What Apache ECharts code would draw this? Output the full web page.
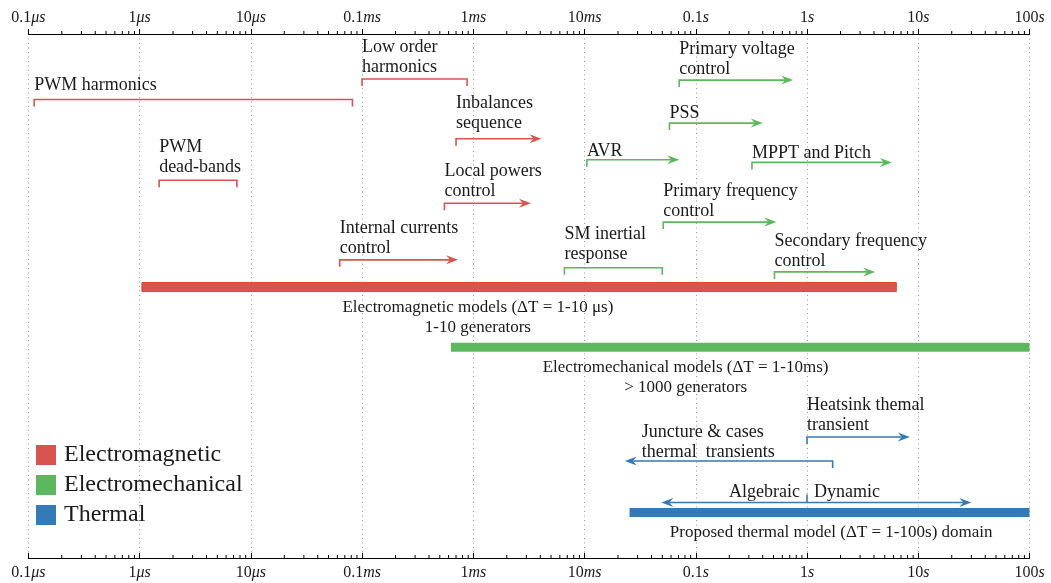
<!DOCTYPE html>
<html>
<head>
<meta charset="utf-8">
<script src="https://cdn.jsdelivr.net/npm/echarts@6/dist/echarts.min.js"></script>
<style>
  html, body { margin: 0; padding: 0; background: #ffffff; }
  #chart { width: 1051px; height: 583px; }
</style>
</head>
<body>
<div id="chart"></div>
<script>
// Time scale: one major tick per decade, in seconds
const decadeValues  = [1e-7, 1e-6, 1e-5, 1e-4, 1e-3, 1e-2, 1e-1, 1, 10, 100];
const decadeNumbers = ['0.1', '1', '10', '0.1', '1', '10', '0.1', '1', '10', '100'];
const decadeUnits   = ['μs', 'μs', 'μs', 'ms', 'ms', 'ms', 's', 's', 's', 's'];
const minorSteps    = [2, 3, 4, 5, 6, 7, 8, 9];

// Model families
const familyNames  = ['Electromagnetic', 'Electromechanical', 'Thermal'];
const familyColors = ['#d9534f', '#5cb85c', '#337ab7'];

// Dynamic phenomena and the time ranges they cover (seconds)
const spanLabels = [
  'PWM harmonics', 'PWM\ndead-bands', 'Low order\nharmonics', 'Inbalances\nsequence',
  'Local powers\ncontrol', 'Internal currents\ncontrol',
  'Primary voltage\ncontrol', 'PSS', 'AVR', 'MPPT and Pitch',
  'Primary frequency\ncontrol', 'SM inertial\nresponse', 'Secondary frequency\ncontrol',
  'Heatsink themal\ntransient', 'Juncture & cases\nthermal  transients', 'Algebraic|Dynamic'
];
const spanStart  = [1.13e-7, 1.5e-6, 1.0e-4, 7.0e-4, 5.5e-4, 6.3e-5,
                    0.071, 0.058, 0.0105, 0.32, 0.051, 6.6e-3, 0.51,
                    1, 0.023, 0.049];
const spanEnd    = [8.2e-5, 7.5e-6, 8.8e-4, 4.1e-3, 3.3e-3, 7.3e-4,
                    0.75, 0.40, 0.071, 5.8, 0.53, 0.050, 4.1,
                    8.4, 1.7, 30];
const spanSplit  = [null, null, null, null, null, null,
                    null, null, null, null, null, null, null,
                    null, null, 1];
const spanFamily = [0, 0, 0, 0, 0, 0, 1, 1, 1, 1, 1, 1, 1, 2, 2, 2];
// bracket: |‾‾|   arrow: |‾‾>   back: <‾‾|   both: <‾‾|‾‾>
const spanShape  = ['bracket', 'bracket', 'bracket', 'arrow', 'arrow', 'arrow',
                    'arrow', 'arrow', 'arrow', 'arrow', 'arrow', 'bracket', 'arrow',
                    'arrow', 'back', 'both'];

// Simulation model domains (thick bars)
const domainLabels = [
  'Electromagnetic models (ΔT = 1-10 μs)\n1-10 generators',
  'Electromechanical models (ΔT = 1-10ms)\n> 1000 generators',
  'Proposed thermal model (ΔT = 1-100s) domain'
];
const domainStart  = [1.05e-6, 6.3e-4, 0.0254];
const domainEnd    = [6.35, 100, 100];
const domainFamily = [0, 1, 2];

// Layout: vertical lane of every span / bar (percent of plot height from the top)
const spanLane    = [12.5, 27.9, 8.6, 20.0, 32.3, 43.1,
                     8.8, 17.0, 24.0, 24.5, 35.9, 44.6, 45.4,
                     76.9, 81.5, 89.4];
const spanLabelGap = [14, 13, 12, 16, 12, 12, 11, 10, 8.5, 9.5, 11, 13, 11, 12, 9, 10];
const domainLane    = [48.3, 59.8, 91.3];
const domainLabelAt = [1.1e-3, 0.081, 1.65];

const FONT = '"Liberation Serif", "DejaVu Serif", serif';
const INK = '#1a1a1a';

const minorValues = [];
decadeValues.slice(0, -1).forEach(d => minorSteps.forEach(s => minorValues.push([d * s, 0])));

function arrowHead(tipX, y, dir, color) {
  return {
    type: 'polygon',
    shape: { points: [[tipX, y], [tipX - 12 * dir, y - 4.5], [tipX - 8 * dir, y], [tipX - 12 * dir, y + 4.5]] },
    style: { fill: color, stroke: null }
  };
}

function labelText(text, x, y, align, color) {
  return {
    type: 'text',
    style: {
      text, x, y, fill: color || INK, align, verticalAlign: 'bottom',
      fontFamily: FONT, fontSize: 18, lineHeight: 20
    }
  };
}

function renderSpan(params, api) {
  const k = api.value(3);
  const color = familyColors[spanFamily[k]];
  const a = api.coord([spanStart[k], spanLane[k]]);
  const b = api.coord([spanEnd[k], spanLane[k]]);
  const y = a[1];
  const x0 = a[0], x1 = b[0];
  const ln = { stroke: color, lineWidth: 1.6, fill: null };
  const kids = [];
  const textY = y - spanLabelGap[k] + 10;
  const shape = spanShape[k];
  if (shape === 'bracket') {
    kids.push({ type: 'polyline', shape: { points: [[x0, y + 7], [x0, y], [x1, y], [x1, y + 7]] }, style: ln });
    kids.push(labelText(spanLabels[k], x0, textY, 'left'));
  } else if (shape === 'arrow') {
    kids.push({ type: 'polyline', shape: { points: [[x0, y + 7], [x0, y], [x1 - 8, y]] }, style: ln });
    kids.push(arrowHead(x1, y, 1, color));
    kids.push(labelText(spanLabels[k], x0, textY, 'left'));
  } else if (shape === 'back') {
    kids.push({ type: 'polyline', shape: { points: [[x1, y + 7], [x1, y], [x0 + 8, y]] }, style: ln });
    kids.push(arrowHead(x0, y, -1, color));
    kids.push(labelText(spanLabels[k], x0 + 17, textY, 'left'));
  } else {
    const m = api.coord([spanSplit[k], spanLane[k]])[0];
    kids.push({ type: 'line', shape: { x1: x0 + 8, y1: y, x2: x1 - 8, y2: y }, style: ln });
    kids.push({ type: 'line', shape: { x1: m, y1: y, x2: m, y2: y - 8 }, style: ln });
    kids.push(arrowHead(x0, y, -1, color));
    kids.push(arrowHead(x1, y, 1, color));
    const parts = spanLabels[k].split('|');
    kids.push(labelText(parts[0], m - 7, textY, 'right'));
    kids.push(labelText(parts[1], m + 7, textY, 'left'));
  }
  return { type: 'group', children: kids };
}

function renderDomain(params, api) {
  const k = api.value(3);
  const f = domainFamily[k];
  const a = api.coord([domainStart[k], domainLane[k]]);
  const b = api.coord([domainEnd[k], domainLane[k]]);
  const c = api.coord([domainLabelAt[k], domainLane[k]]);
  const h = 9;
  const kids = [{
    type: 'rect',
    shape: { x: a[0], y: a[1] - h / 2, width: b[0] - a[0], height: h },
    style: f === 0 ? { fill: familyColors[f], stroke: '#e2452f', lineWidth: 1 } : { fill: familyColors[f] }
  }, {
    type: 'text',
    style: {
      text: domainLabels[k], x: c[0], y: a[1] + 10, fill: INK, align: 'center', verticalAlign: 'top',
      fontFamily: FONT, fontSize: 17, lineHeight: 20
    }
  }];
  return { type: 'group', children: kids };
}

function renderMinorTick(params, api) {
  const t = api.value(0);
  const top = api.coord([t, 0]);
  const bottom = api.coord([t, 100]);
  const st = { stroke: '#000', lineWidth: 1 };
  return {
    type: 'group',
    children: [
      { type: 'line', shape: { x1: top[0], y1: top[1], x2: top[0], y2: top[1] - 3 }, style: st },
      { type: 'line', shape: { x1: bottom[0], y1: bottom[1], x2: bottom[0], y2: bottom[1] - 3 }, style: st }
    ]
  };
}

function decadeLabel(v) {
  const i = Math.round(Math.log10(v)) + 7;
  if (i < 0 || i >= decadeNumbers.length) return '';
  return '{n|' + decadeNumbers[i] + '}{u|' + decadeUnits[i] + '}';
}

const axisRich = {
  n: { fontFamily: FONT, fontSize: 16, color: INK },
  u: { fontFamily: FONT, fontSize: 16, fontStyle: 'italic', color: INK }
};

function timeAxis(position) {
  const bottom = position === 'bottom';
  return {
    type: 'log',
    logBase: 10,
    position,
    min: decadeValues[0],
    max: decadeValues[decadeValues.length - 1],
    axisLine: { show: true, onZero: false, lineStyle: { color: '#000', width: 1 } },
    axisTick: { show: true, inside: bottom, length: 5, lineStyle: { color: '#000', width: 1 } },
    minorTick: { show: false },
    axisLabel: {
      show: true, margin: bottom ? 7 : 8, formatter: decadeLabel, rich: axisRich,
      showMinLabel: true, showMaxLabel: true, hideOverlap: false
    },
    splitLine: bottom
      ? { show: true, lineStyle: { color: '#9a9a9a', width: 1, type: [1, 3.5] } }
      : { show: false }
  };
}

const series = [];
familyNames.forEach((name, f) => {
  series.push({
    name, type: 'custom', clip: false, z: 3,
    itemStyle: { color: familyColors[f] },
    renderItem: renderDomain,
    encode: { x: [0, 1], y: 2 },
    data: domainStart.map((s, k) => [s, domainEnd[k], domainLane[k], k]).filter((d, k) => domainFamily[k] === f)
  });
  series.push({
    name, type: 'custom', clip: false, z: 4,
    itemStyle: { color: familyColors[f] },
    renderItem: renderSpan,
    encode: { x: [0, 1], y: 2 },
    data: spanStart.map((s, k) => [s, spanEnd[k], spanLane[k], k]).filter((d, k) => spanFamily[k] === f)
  });
});
series.push({
  name: 'ticks', type: 'custom', clip: false, z: 2, silent: true,
  renderItem: renderMinorTick,
  encode: { x: 0, y: 1 },
  data: minorValues
});

const chart = echarts.init(document.getElementById('chart'), null, { renderer: 'canvas' });
chart.setOption({
  backgroundColor: '#ffffff',
  animation: false,
  grid: { left: 28.3, right: 21.5, top: 34, bottom: 25, containLabel: false },
  xAxis: [timeAxis('bottom'), timeAxis('top')],
  yAxis: { type: 'value', min: 0, max: 100, inverse: true, show: false },
  legend: {
    data: familyNames,
    orient: 'vertical',
    left: 36, top: 443,
    padding: 0,
    icon: 'rect',
    itemWidth: 20, itemHeight: 20, itemGap: 6,
    selectedMode: false,
    textStyle: { fontFamily: FONT, fontSize: 24, color: INK, lineHeight: 20, padding: [0, 0, 0, 3] }
  },
  series
});
</script>
</body>
</html>
